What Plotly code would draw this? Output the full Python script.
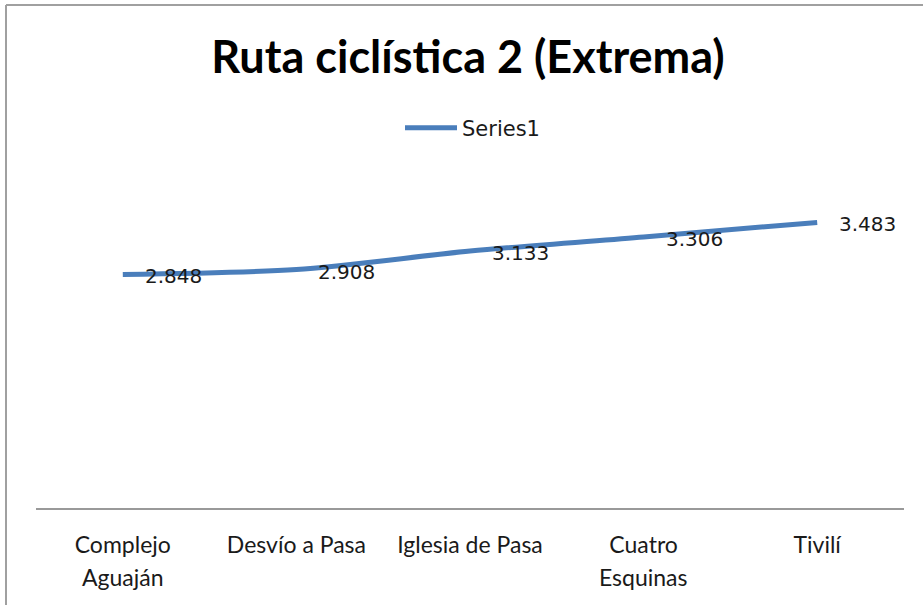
import plotly.graph_objects as go

# Route stops and elevation values (km above sea level)
stops_line1 = ["Complejo", "Desvío a Pasa", "Iglesia de Pasa", "Cuatro", "Tivilí"]
stops_line2 = ["Aguaján", "", "", "Esquinas", ""]
elevation = [2.848, 2.908, 3.133, 3.306, 3.483]
series_name = "Series1"

W, H = 923, 605
ML, MR, MT, MB = 36, 19, 180, 97
PW, PH = W - ML - MR, H - MT - MB

def px_x(p):
    return (p - ML) / PW

def px_y(p):
    return (H - MB - p) / PH

idx = list(range(len(elevation)))
label_font = dict(family="Lato", size=23, color="#1a1a1a")

fig = go.Figure()
fig.add_trace(go.Scatter(
    x=idx, y=elevation, mode="lines", name=series_name,
    line=dict(color="#4A7EBB", width=5, shape="spline", smoothing=0.8),
    showlegend=True,
))

# value labels to the right of each point
for i, v in zip(idx, elevation):
    fig.add_annotation(
        x=i, y=v, text=f"{v:.3f}", showarrow=False,
        xanchor="left", yanchor="middle", xshift=20, yshift=-2,
        font=dict(family="DejaVu Sans", size=20, color="#1a1a1a"),
    )

# second line of the wrapped category labels
for i, t in zip(idx, stops_line2):
    if t:
        fig.add_annotation(
            x=i, xref="x", y=px_y(577), yref="paper", text=t, showarrow=False,
            xanchor="center", yanchor="middle", font=label_font,
        )

# chart frame
border = dict(color="#a0a0a0", width=2)
fig.add_shape(type="line", xref="paper", yref="paper",
              x0=px_x(6), x1=px_x(W + 5), y0=px_y(5), y1=px_y(5), line=border)
fig.add_shape(type="line", xref="paper", yref="paper",
              x0=px_x(6), x1=px_x(6), y0=px_y(5), y1=px_y(H + 5), line=border)

fig.update_layout(
    width=W, height=H,
    margin=dict(l=ML, r=MR, t=MT, b=MB),
    paper_bgcolor="white", plot_bgcolor="white",
    title=dict(
        text="<b>Ruta ciclística 2 (Extrema)</b>",
        x=px_x(468), xanchor="center", xref="paper",
        y=1 - 57 / H, yanchor="middle", yref="container",
        font=dict(family="Lato", size=45, color="#000000"),
    ),
    legend=dict(
        orientation="h", x=px_x(400), xanchor="left", y=px_y(128), yanchor="middle",
        font=dict(family="DejaVu Sans", size=21, color="#1a1a1a"),
        itemwidth=52, bgcolor="rgba(0,0,0,0)",
    ),
    xaxis=dict(
        range=[-0.5, 4.5], tickmode="array", tickvals=idx, ticktext=stops_line1,
        showgrid=False, zeroline=False, showline=True, linecolor="#999999", linewidth=2,
        ticks="", ticklabelstandoff=15, tickfont=label_font,
    ),
    yaxis=dict(range=[0, 4], visible=False, showgrid=False, zeroline=False),
)

fig.write_html("out.html")
